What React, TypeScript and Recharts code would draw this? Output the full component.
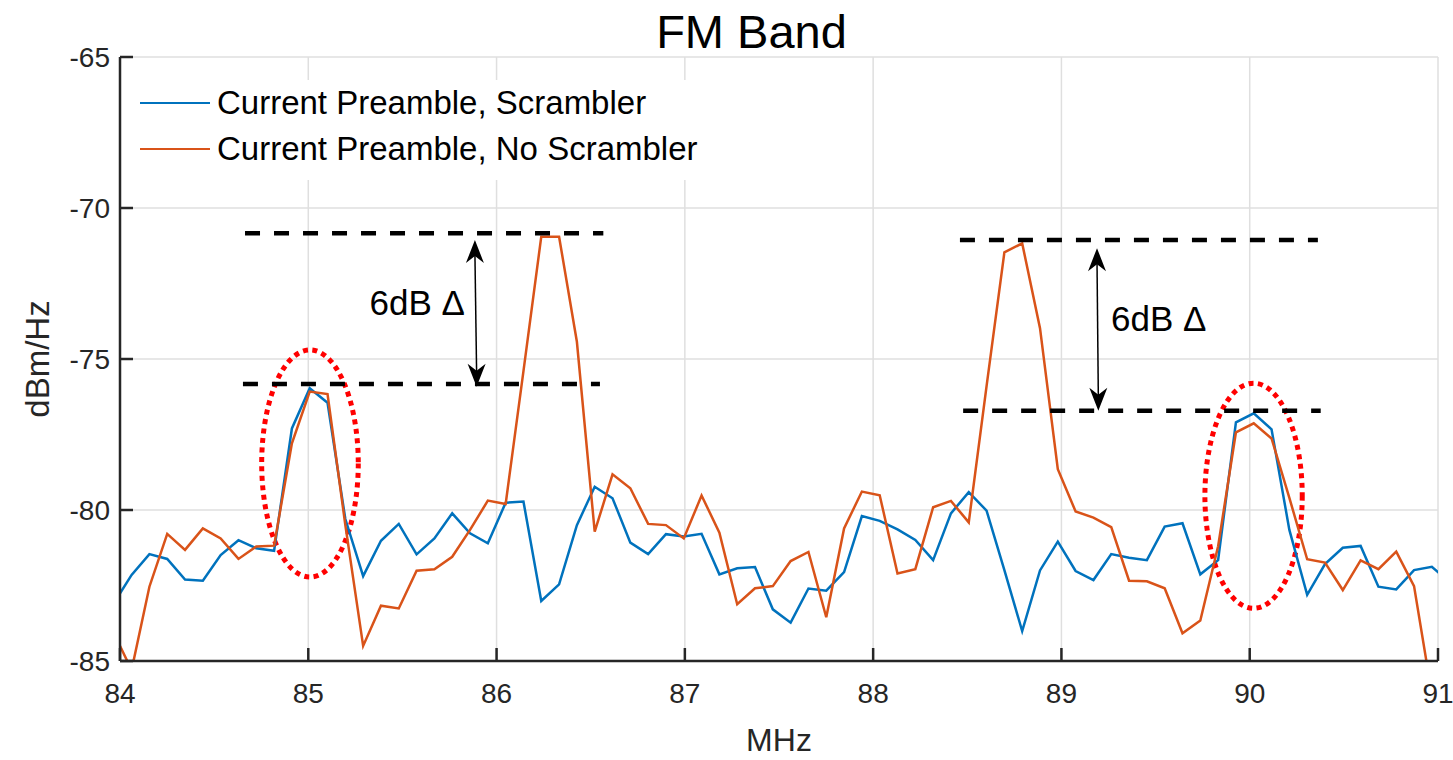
import { LineChart, Line, XAxis, YAxis, CartesianGrid, ReferenceLine, ReferenceArea } from 'recharts'

// spectrum samples, first bin just left of 84 MHz, bin width ~0.0946 MHz
const F0 = 83.967
const DF = 0.0946

const scrambler = [
  -83.09, -82.15, -81.46, -81.62, -82.3, -82.34, -81.49, -81.0, -81.27, -81.35,
  -77.3, -75.97, -76.45, -80.3, -82.19, -81.02, -80.46, -81.47, -80.94, -80.11,
  -80.77, -81.1, -79.76, -79.72, -83.01, -82.46, -80.5, -79.23, -79.61, -81.08,
  -81.46, -80.8, -80.88, -80.79, -82.13, -81.93, -81.89, -83.29, -83.73, -82.6,
  -82.67, -82.06, -80.2, -80.36, -80.64, -80.99, -81.66, -80.11, -79.41, -80.02,
  -81.99, -84.01, -82.0, -81.05, -82.02, -82.32, -81.46, -81.58, -81.66, -80.55,
  -80.44, -82.13, -81.66, -77.1, -76.8, -77.33, -80.66, -82.81, -81.79, -81.25,
  -81.19, -82.54, -82.63, -81.99, -81.88, -82.4,
]

const noScrambler = [
  -84.07, -85.3, -82.54, -80.79, -81.32, -80.61, -80.94, -81.62, -81.21, -81.18,
  -77.79, -76.08, -76.16, -80.5, -84.5, -83.17, -83.26, -82.01, -81.96, -81.55,
  -80.66, -79.69, -79.8, -75.4, -70.95, -70.95, -74.43, -80.72, -78.82, -79.28,
  -80.46, -80.5, -80.94, -79.52, -80.75, -83.12, -82.59, -82.52, -81.69, -81.39,
  -83.55, -80.61, -79.39, -79.51, -82.1, -81.96, -79.91, -79.7, -80.41, -75.9,
  -71.47, -71.17, -73.98, -78.65, -80.05, -80.25, -80.57, -82.34, -82.36, -82.59,
  -84.08, -83.66, -81.2, -77.43, -77.13, -77.63, -79.6, -81.63, -81.74, -82.65,
  -81.67, -81.96, -81.38, -82.52, -86.1, -87.0,
]

const xTicks = [84, 85, 86, 87, 88, 89, 90, 91]
const yTicks = [-85, -80, -75, -70, -65]

const seriesNames = ['Current Preamble, Scrambler', 'Current Preamble, No Scrambler']
const seriesColors = ['#0072BD', '#D95319']

// dashed level markers [x1, x2, y]
const levels = [
  [84.664, 86.567, -70.84],
  [84.653, 86.549, -75.83],
  [88.461, 90.362, -71.06],
  [88.478, 90.377, -76.71],
]

// delta arrows
const arrows = [
  { top: [85.885, -71.06], bottom: [85.894, -75.92], side: 'left' },
  { top: [89.189, -71.33], bottom: [89.196, -76.71], side: 'right' },
]

// highlighted peaks [x1, x2, yTop, yBottom]
const circles = [
  [84.7525, 85.2655, -74.7, -82.22],
  [89.762, 90.279, -75.8, -83.255],
]

const data = scrambler.map((v, i) => ({
  f: +(F0 + i * DF).toFixed(4),
  scr: v,
  noScr: noScrambler[i],
}))

const FONT = '"Liberation Sans", Arial, Helvetica, sans-serif'
const AXIS = '#262626'

function XTick({ x, y, payload }: any) {
  return (
    <g>
      <line x1={x} x2={x} y1={y} y2={y - 13} stroke={AXIS} strokeWidth={2.5} />
      <text x={x} y={y + 42} textAnchor="middle" fontSize={28} fill={AXIS} fontFamily={FONT}>
        {payload.value}
      </text>
    </g>
  )
}

function YTick({ x, y, payload }: any) {
  return (
    <g>
      <line x1={x} x2={x + 13} y1={y} y2={y} stroke={AXIS} strokeWidth={2.5} />
      <text x={x - 10} y={y + 10} textAnchor="end" fontSize={28} fill={AXIS} fontFamily={FONT}>
        {payload.value}
      </text>
    </g>
  )
}

function makeArrow(side: string) {
  return (p: any) => {
    const { x1, y1, x2, y2 } = p
    const midY = (y1 + y2) / 2 - 10
    return (
      <g>
        <line x1={x1} y1={y1 + 14} x2={x2} y2={y2 - 14} stroke="#000" strokeWidth={1.5} />
        <polygon points={`${x1},${y1} ${x1 - 9},${y1 + 23} ${x1},${y1 + 16} ${x1 + 9},${y1 + 23}`} fill="#000" />
        <polygon points={`${x2},${y2} ${x2 - 9},${y2 - 23} ${x2},${y2 - 16} ${x2 + 9},${y2 - 23}`} fill="#000" />
        <text
          x={side === 'left' ? x1 - 10 : x1 + 14}
          y={midY + 12}
          textAnchor={side === 'left' ? 'end' : 'start'}
          fontSize={35}
          fontFamily={FONT}
          fill="#000"
        >
          6dB Δ
        </text>
      </g>
    )
  }
}

function Ellipse(p: any) {
  const { x, y, width, height } = p
  return (
    <ellipse
      cx={x + width / 2}
      cy={y + height / 2}
      rx={width / 2}
      ry={height / 2}
      fill="none"
      stroke="#ff0000"
      strokeWidth={5}
      strokeDasharray="5 4.5"
    />
  )
}

export default function App() {
  return (
    <div style={{ position: 'absolute', left: 0, top: 0, width: 1453, height: 760, background: '#fff', fontFamily: FONT }}>
      <div style={{ position: 'absolute', left: 0, width: 1503, top: 6, textAlign: 'center', fontSize: 47, color: '#000', lineHeight: '52px' }}>
        FM Band
      </div>
      <LineChart width={1453} height={760} data={data} margin={{ top: 57, right: 15, left: 0, bottom: 0 }}>
        <CartesianGrid stroke="#dfdfdf" strokeWidth={1.5} />
        <XAxis
          dataKey="f"
          type="number"
          domain={[84, 91]}
          ticks={xTicks}
          allowDataOverflow
          height={99}
          tickSize={0}
          tickMargin={0}
          tick={<XTick />}
          stroke={AXIS}
          strokeWidth={2.5}
          label={{
            content: (props: any) => {
              const vb = props.viewBox
              return (
                <text x={vb.x + vb.width / 2} y={751} textAnchor="middle" fontSize={32} fill={AXIS} fontFamily={FONT}>
                  MHz
                </text>
              )
            },
          }}
        />
        <YAxis
          type="number"
          domain={[-85, -65]}
          ticks={yTicks}
          allowDataOverflow
          width={120}
          tickSize={0}
          tickMargin={0}
          tick={<YTick />}
          stroke={AXIS}
          strokeWidth={2.5}
          label={{
            content: (props: any) => {
              const vb = props.viewBox
              const cx = 49
              const cy = vb.y + vb.height / 2
              return (
                <text x={cx} y={cy} transform={`rotate(-90 ${cx} ${cy})`} textAnchor="middle" fontSize={33} fill={AXIS} fontFamily={FONT}>
                  dBm/Hz
                </text>
              )
            },
          }}
        />
        <Line type="linear" dataKey="scr" stroke={seriesColors[0]} strokeWidth={2.5} dot={false} isAnimationActive={false} />
        <Line type="linear" dataKey="noScr" stroke={seriesColors[1]} strokeWidth={2.5} dot={false} isAnimationActive={false} />
        {levels.map((l, i) => (
          <ReferenceLine
            key={'lv' + i}
            segment={[{ x: l[0], y: l[2] }, { x: l[1], y: l[2] }]}
            stroke="#000"
            strokeWidth={4.5}
            strokeDasharray="15 14"
          />
        ))}
        {arrows.map((a, i) => (
          <ReferenceLine
            key={'ar' + i}
            segment={[{ x: a.top[0], y: a.top[1] }, { x: a.bottom[0], y: a.bottom[1] }]}
            shape={makeArrow(a.side)}
          />
        ))}
        {circles.map((c, i) => (
          <ReferenceArea key={'el' + i} x1={c[0]} x2={c[1]} y1={c[3]} y2={c[2]} shape={Ellipse} />
        ))}
      </LineChart>
      <div style={{ position: 'absolute', left: 128, top: 80, width: 590, height: 100, background: '#fff' }}>
        {seriesNames.map((n, i) => (
          <div key={n} style={{ position: 'absolute', left: 0, top: i * 46, height: 46, display: 'flex', alignItems: 'center' }}>
            <div style={{ width: 70, height: 2.5, background: seriesColors[i], marginLeft: 12, marginRight: 7 }} />
            <span style={{ fontSize: 33, color: '#000', whiteSpace: 'nowrap' }}>{n}</span>
          </div>
        ))}
      </div>
    </div>
  )
}
